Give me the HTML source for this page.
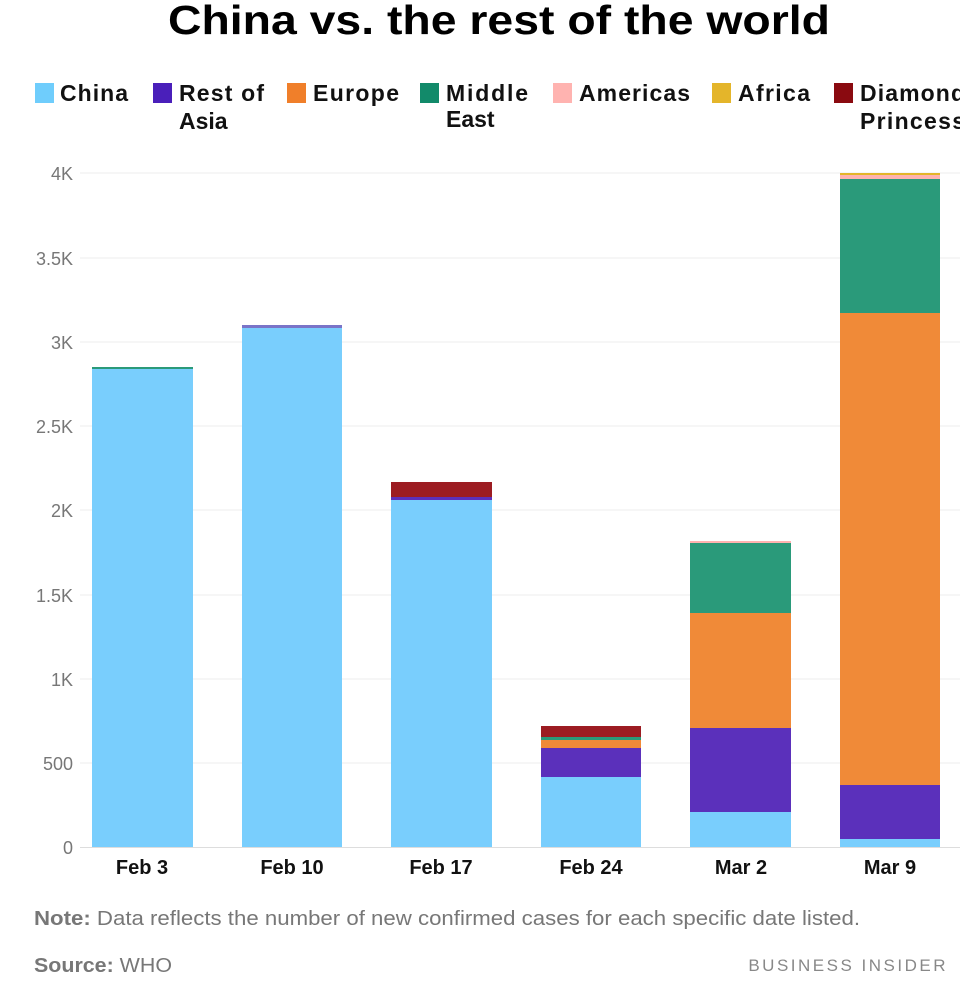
<!DOCTYPE html>
<html><head><style>
body{margin:0;background:#fff;width:960px;height:981px;overflow:hidden;font-family:"Liberation Sans",sans-serif}
</style></head><body>
<svg width="960" height="981" xmlns="http://www.w3.org/2000/svg" font-family="Liberation Sans, sans-serif">
<text x="168" y="34" font-size="41" font-weight="bold" fill="#000" textLength="662" lengthAdjust="spacingAndGlyphs">China vs. the rest of the world</text>
<g font-size="23" font-weight="bold" fill="#111">
<rect x="35" y="83" width="19" height="20" fill="#6fcdfc"/><text x="60" y="101" textLength="68">China</text>
<rect x="153" y="83" width="19" height="20" fill="#4a1fba"/><text x="179" y="101" textLength="85">Rest of</text><text x="179" y="129">Asia</text>
<rect x="287" y="83" width="19" height="20" fill="#f07f2a"/><text x="313" y="101" textLength="86">Europe</text>
<rect x="420" y="83" width="19" height="20" fill="#128a6a"/><text x="446" y="101" textLength="82">Middle</text><text x="446" y="127">East</text>
<rect x="553" y="83" width="19" height="20" fill="#ffb3b0"/><text x="579" y="101" textLength="111">Americas</text>
<rect x="712" y="83" width="19" height="20" fill="#e4b52a"/><text x="738" y="101" textLength="72">Africa</text>
<rect x="834" y="83" width="19" height="20" fill="#8a0a10"/><text x="860" y="101" textLength="105">Diamond</text><text x="860" y="129" textLength="105">Princess</text>
</g>
<g stroke="#eee" stroke-width="1">
<line x1="80" y1="173" x2="960" y2="173"/><line x1="80" y1="258" x2="960" y2="258"/><line x1="80" y1="342" x2="960" y2="342"/><line x1="80" y1="426" x2="960" y2="426"/><line x1="80" y1="510" x2="960" y2="510"/><line x1="80" y1="595" x2="960" y2="595"/><line x1="80" y1="679" x2="960" y2="679"/><line x1="80" y1="763" x2="960" y2="763"/>
</g>
<g font-size="18" fill="#777" text-anchor="end">
<text x="73" y="180">4K</text><text x="73" y="265">3.5K</text><text x="73" y="349">3K</text><text x="73" y="433">2.5K</text><text x="73" y="517">2K</text><text x="73" y="602">1.5K</text><text x="73" y="686">1K</text><text x="73" y="770">500</text><text x="73" y="854">0</text>
</g>
<rect x="92" y="369" width="101" height="478" fill="#79cefd"/><rect x="92" y="367" width="101" height="2" fill="#2a9a7a"/>
<rect x="242" y="328" width="100" height="519" fill="#79cefd"/><rect x="242" y="325" width="100" height="3" fill="#7a74c8"/>
<rect x="391" y="500" width="101" height="347" fill="#79cefd"/><rect x="391" y="497" width="101" height="3" fill="#5b30bb"/><rect x="391" y="482" width="101" height="15" fill="#9c1c22"/>
<rect x="541" y="777" width="100" height="70" fill="#79cefd"/><rect x="541" y="748" width="100" height="29" fill="#5b30bb"/><rect x="541" y="740" width="100" height="8" fill="#f08a38"/><rect x="541" y="737" width="100" height="3" fill="#2a9a7a"/><rect x="541" y="726" width="100" height="11" fill="#9c1c22"/>
<rect x="690" y="812" width="101" height="35" fill="#79cefd"/><rect x="690" y="728" width="101" height="84" fill="#5b30bb"/><rect x="690" y="613" width="101" height="115" fill="#f08a38"/><rect x="690" y="543" width="101" height="70" fill="#2a9a7a"/><rect x="690" y="541" width="101" height="2" fill="#ffb3b0"/>
<rect x="840" y="839" width="100" height="8" fill="#79cefd"/><rect x="840" y="785" width="100" height="54" fill="#5b30bb"/><rect x="840" y="313" width="100" height="472" fill="#f08a38"/><rect x="840" y="179" width="100" height="134" fill="#2a9a7a"/><rect x="840" y="175" width="100" height="4" fill="#ffb3b0"/><rect x="840" y="173" width="100" height="2" fill="#e4b52a"/>
<line x1="80" y1="847.5" x2="960" y2="847.5" stroke="#ddd"/>
<g font-size="20" font-weight="bold" fill="#111" text-anchor="middle">
<text x="142" y="874">Feb 3</text><text x="292" y="874">Feb 10</text><text x="441" y="874">Feb 17</text><text x="591" y="874">Feb 24</text><text x="741" y="874">Mar 2</text><text x="890" y="874">Mar 9</text>
</g>
<text x="34" y="925" font-size="20" fill="#777" textLength="826" lengthAdjust="spacingAndGlyphs"><tspan font-weight="bold">Note:</tspan> Data reflects the number of new confirmed cases for each specific date listed.</text>
<text x="34" y="972" font-size="20" fill="#777" textLength="138" lengthAdjust="spacingAndGlyphs"><tspan font-weight="bold">Source:</tspan> WHO</text>
<text x="948" y="971" font-size="17" fill="#888" text-anchor="end" letter-spacing="2.5">BUSINESS INSIDER</text>
</svg>
</body></html>
